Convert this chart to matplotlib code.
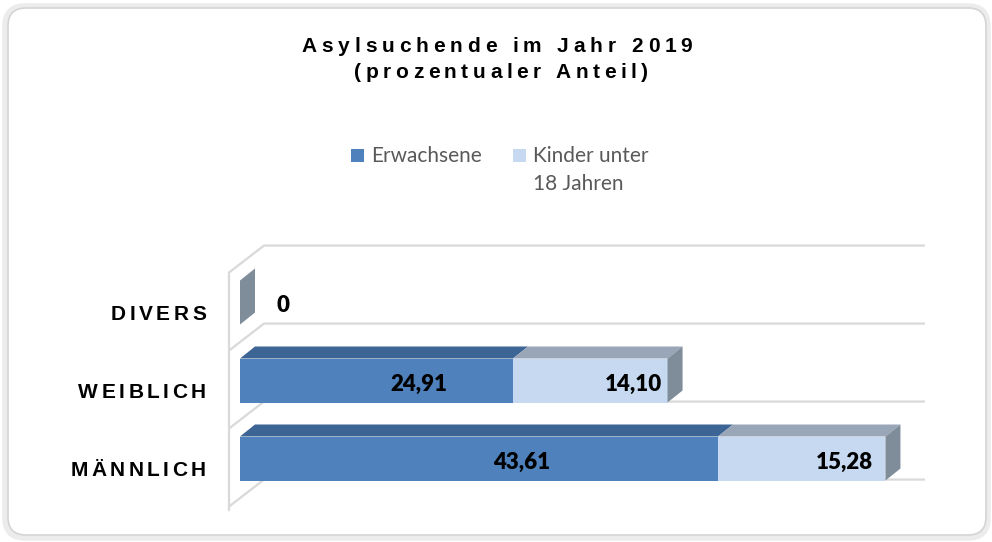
import numpy as np
import matplotlib
matplotlib.use('Agg')
import matplotlib.pyplot as plt
from matplotlib import font_manager, ft2font
from matplotlib.font_manager import FontProperties
from matplotlib.patches import Polygon, FancyBboxPatch, Rectangle

categories = ['MÄNNLICH', 'WEIBLICH', 'DIVERS']
erwachsene = [43.61, 24.91, 0.0]
kinder = [15.28, 14.10, 0.0]
series_names = ['Erwachsene', 'Kinder unter\n18 Jahren']
series_colors = ['#4F81BD', '#C6D9F1']
top_colors = ['#3C6494', '#98A6B8']
side_color = '#7F8C9A'
title_lines = ['Asylsuchende im Jahr 2019', '(prozentualer Anteil)']

W, H = 992, 542
fig = plt.figure(figsize=(W / 100, H / 100), dpi=100)
fig.patch.set_facecolor('white')


def spaced_text(s, x, y, size, spacing, ha='center', weight='bold',
                family='Liberation Sans', color='black'):
    # text with extra letter spacing, x/y in pixels from top-left
    prop = FontProperties(family=family, weight=weight, size=size)
    font = ft2font.FT2Font(font_manager.findfont(prop), hinting_factor=1)
    font.set_size(size, fig.dpi)
    adv = [font.load_char(ord(c)).linearHoriAdvance / 65536 for c in s]
    total = sum(adv) + spacing * (len(s) - 1)
    start = {'center': x - total / 2, 'right': x - total, 'left': x}[ha]
    for c, a in zip(s, adv):
        if c != ' ':
            fig.text(start / W, 1 - y / H, c, fontproperties=prop,
                     color=color, va='baseline', ha='left')
        start += a + spacing


# rounded frame with soft shadow
fig.patches.append(FancyBboxPatch((5, 4), 983, 532, boxstyle='round,pad=0,rounding_size=20',
                                  transform=None, facecolor='none', edgecolor='#ececec',
                                  lw=4, zorder=-2))
fig.patches.append(FancyBboxPatch((8, 7), 978, 527, boxstyle='round,pad=0,rounding_size=18',
                                  transform=None, facecolor='white', edgecolor='#d4d4d4',
                                  lw=1.2, zorder=-1))

# plot area mapped to pixels
X0, SX = 240, 10.96      # px of value 0, px per unit
Y0, SY = 458.5, 78       # px (from top) of first category, px per category
xlim = (-3, 65)
ylim = (-1, 3)
left_px, right_px = X0 + xlim[0] * SX, X0 + xlim[1] * SX
top_px, bottom_px = Y0 - ylim[1] * SY, Y0 - ylim[0] * SY
ax = fig.add_axes([left_px / W, 1 - bottom_px / H,
                   (right_px - left_px) / W, (bottom_px - top_px) / H])
ax.axis('off')
ax.set_zorder(1)

# walls / gridlines
grid_col = '#d9d9d9'
wall_x = -11 / SX
dxw, dyw = 35 / SX, 27 / SY
grid_y = np.arange(4) - 0.27
for gy in grid_y:
    ax.plot([wall_x, wall_x + dxw, 62.5], [gy - dyw, gy, gy], color=grid_col, lw=1.6,
            zorder=0, solid_capstyle='butt')
ax.plot([wall_x, wall_x], [grid_y[-1] - dyw, grid_y[0] - dyw - 0.05], color=grid_col,
        lw=1.6, zorder=0)

# bars
y = np.arange(len(categories))
h = 44 / SY
dx, dy = 15 / SX, 12 / SY
ax.barh(y, erwachsene, height=h, color=series_colors[0], zorder=2)
ax.barh(y, kinder, left=erwachsene, height=h, color=series_colors[1], zorder=2)

for i in range(len(categories)):
    segs = [(0, erwachsene[i]), (erwachsene[i], kinder[i])]
    top = y[i] + h / 2
    for k, (l, w) in enumerate(segs):
        if w > 0:
            ax.add_patch(Polygon([(l, top), (l + w, top), (l + w + dx, top + dy), (l + dx, top + dy)],
                                 closed=True, facecolor=top_colors[k], edgecolor='none', zorder=2 + k))
    r = erwachsene[i] + kinder[i]
    ax.add_patch(Polygon([(r, top - h), (r, top), (r + dx, top + dy), (r + dx, top - h + dy)],
                         closed=True, facecolor=side_color, edgecolor='none', zorder=4))
    # value labels
    for k, (l, w) in enumerate(segs):
        if w > 0 or (k == 0 and w == 0):
            txt = '0' if w == 0 else f'{w:.2f}'.replace('.', ',')
            ax.text(l + w / 2 + 3.9, y[i] - 10 / SY, txt, ha='center', va='baseline',
                    fontfamily='Lato', fontweight='heavy', fontsize=16, color='black', zorder=5)

ax.set_xlim(xlim)
ax.set_ylim(ylim)

# category labels
for i, cat in enumerate(categories):
    spaced_text(cat, 206, Y0 - y[i] * SY + 17, 15, 3.4, ha='right')

# title
spaced_text(title_lines[0], 497, 51.5, 15, 4.8)
spaced_text(title_lines[1], 501, 78, 15, 4.5)

# legend
leg_x = [351, 513]
for k, name in enumerate(series_names):
    fig.patches.append(Rectangle((leg_x[k], H - 162), 13, 13, transform=None,
                                 facecolor=series_colors[k], edgecolor='none'))
    for j, line in enumerate(name.split('\n')):
        fig.text((leg_x[k] + 20) / W, 1 - (162 + 28 * j) / H, line, fontfamily='Lato',
                 fontsize=15, color='#595959', va='baseline', ha='left')

fig.savefig('out.png', dpi=100)
